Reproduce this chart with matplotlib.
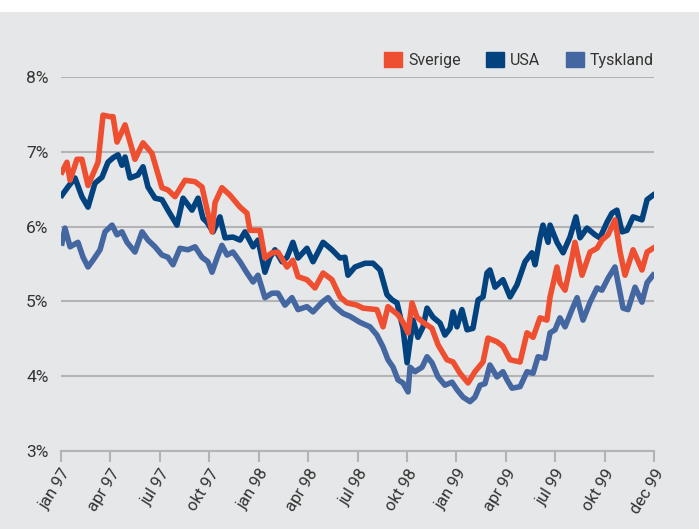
import matplotlib
matplotlib.use("Agg")
import matplotlib.pyplot as plt
from matplotlib.patches import Patch, Rectangle

# Interest rates, 10-year government bonds, jan 97 - dec 99 (months from jan 97)
sverige_m = [0.06, 0.36, 0.55, 0.97, 1.27, 1.64, 2.25, 2.55, 2.97, 3.16, 3.40, 3.89, 4.49, 4.98,
             5.52, 6.13, 6.49, 6.92, 7.53, 8.14, 8.56, 9.17, 9.35, 9.77, 10.26, 10.87, 11.29,
             11.47, 12.08, 12.38, 12.81, 13.17, 13.72, 14.08, 14.39, 14.93, 15.42, 15.91,
             16.45, 16.94, 17.36, 17.97, 18.33, 19.18, 19.55, 19.85, 20.46, 20.76, 21.07,
             21.31, 21.61, 21.98, 22.52, 22.89, 23.43, 23.80, 24.22, 24.71, 25.13, 25.62,
             25.92, 26.47, 26.83, 27.26, 27.87, 28.29, 28.66, 29.08, 29.50, 29.69, 30.11,
             30.29, 30.60, 31.02, 31.20, 31.63, 32.12, 32.54, 32.84, 33.21, 33.63, 33.94,
             34.24, 34.73, 35.27, 35.58, 35.94]
sverige = [6.73, 6.86, 6.62, 6.90, 6.90, 6.55, 6.86, 7.49, 7.47, 7.47, 7.13, 7.36, 6.90, 7.12,
           6.98, 6.52, 6.49, 6.40, 6.62, 6.60, 6.53, 5.93, 6.32, 6.52, 6.42, 6.26, 6.18,
           5.95, 5.95, 5.58, 5.65, 5.66, 5.46, 5.55, 5.33, 5.29, 5.18, 5.38,
           5.29, 5.06, 4.98, 4.95, 4.91, 4.89, 4.66, 4.93, 4.82, 4.72, 4.58,
           4.98, 4.79, 4.72, 4.64, 4.42, 4.22, 4.19, 4.04, 3.91, 4.06, 4.19,
           4.51, 4.46, 4.40, 4.22, 4.19, 4.58, 4.52, 4.78, 4.75, 5.06, 5.46,
           5.25, 5.15, 5.58, 5.79, 5.35, 5.66, 5.71, 5.82, 5.89, 6.09, 5.66,
           5.35, 5.69, 5.42, 5.66, 5.71]

usa_m = [0.06, 0.42, 0.85, 1.27, 1.64, 2.06, 2.49, 2.85, 3.16, 3.46, 3.70, 3.89, 4.19, 4.67,
         4.98, 5.28, 5.71, 6.13, 6.49, 7.04, 7.41, 7.95, 8.32, 8.62, 8.86, 9.23, 9.65, 9.96,
         10.44, 10.87, 11.17, 11.66, 11.96, 12.38, 12.69, 12.99, 13.42, 13.72, 14.08, 14.39,
         14.93, 15.30, 15.91, 16.45, 16.94, 17.24, 17.42, 17.85, 18.46, 18.94, 19.37, 19.79,
         20.10, 20.40, 20.76, 21.01, 21.37, 21.67, 21.98, 22.22, 22.58, 23.01, 23.31, 23.62,
         23.80, 24.04, 24.34, 24.65, 25.01, 25.32, 25.62, 25.86, 26.04, 26.35, 26.83, 27.26,
         27.68, 28.17, 28.59, 28.78, 29.08, 29.26, 29.57, 29.69, 30.11, 30.48, 30.90, 31.26,
         31.51, 31.93, 32.42, 32.72, 33.15, 33.45, 33.75, 34.06, 34.36, 34.73, 35.27, 35.58,
         35.94]
usa = [6.42, 6.53, 6.65, 6.40, 6.26, 6.58, 6.66, 6.86, 6.92, 6.96, 6.82, 6.93, 6.65, 6.69,
       6.80, 6.53, 6.38, 6.36, 6.22, 6.02, 6.38, 6.22, 6.38, 6.11, 6.06, 5.93, 6.13, 5.85,
       5.86, 5.82, 5.93, 5.73, 5.82, 5.39, 5.59, 5.69, 5.53, 5.59, 5.79, 5.58,
       5.71, 5.53, 5.79, 5.69, 5.58, 5.59, 5.35, 5.46, 5.51, 5.51, 5.42, 5.09,
       5.02, 4.98, 4.64, 4.18, 4.75, 4.52, 4.66, 4.91, 4.79, 4.71, 4.55, 4.64,
       4.86, 4.66, 4.89, 4.62, 4.64, 5.02, 5.06, 5.38, 5.42, 5.19, 5.29, 5.06,
       5.22, 5.53, 5.65, 5.49, 5.85, 6.02, 5.79, 6.02, 5.79, 5.65, 5.86, 6.13,
       5.85, 5.98, 5.89, 5.85, 6.06, 6.18, 6.22, 5.93, 5.95, 6.13, 6.09, 6.36,
       6.42]

tyskland_m = [0.06, 0.24, 0.55, 1.03, 1.34, 1.64, 1.94, 2.37, 2.67, 3.10, 3.40, 3.70, 4.01,
              4.49, 4.92, 5.28, 5.71, 6.13, 6.49, 6.80, 7.22, 7.71, 8.14, 8.56, 8.92, 9.17,
              9.47, 9.77, 10.08, 10.44, 10.87, 11.29, 11.66, 11.96, 12.38, 12.81, 13.17,
              13.60, 14.02, 14.39, 14.93, 15.30, 15.85, 16.21, 16.63, 17.12, 17.55, 18.15,
              18.76, 19.18, 19.55, 19.85, 20.16, 20.46, 20.76, 21.07, 21.19, 21.49, 21.92,
              22.22, 22.52, 22.89, 23.31, 23.74, 24.04, 24.41, 24.83, 25.13, 25.44, 25.74,
              26.04, 26.47, 26.83, 27.08, 27.38, 27.87, 28.29, 28.66, 28.96, 29.38, 29.69,
              29.99, 30.29, 30.60, 31.02, 31.33, 31.69, 32.12, 32.54, 32.84, 33.21, 33.63,
              34.12, 34.42, 34.85, 35.27, 35.58, 35.94]
tyskland = [5.78, 5.98, 5.73, 5.79, 5.59, 5.46, 5.55, 5.69, 5.93, 6.02, 5.89, 5.93, 5.79,
            5.66, 5.93, 5.82, 5.73, 5.62, 5.59, 5.49, 5.71, 5.69, 5.73, 5.59, 5.53, 5.39,
            5.58, 5.75, 5.62, 5.66, 5.53, 5.38, 5.26, 5.35, 5.05, 5.11, 5.11,
            4.95, 5.05, 4.89, 4.93, 4.86, 4.99, 5.05, 4.93, 4.84, 4.80, 4.72,
            4.66, 4.55, 4.39, 4.22, 4.12, 3.95, 3.91, 3.79, 4.12, 4.06, 4.12,
            4.26, 4.18, 3.99, 3.88, 3.92, 3.82, 3.72, 3.66, 3.72, 3.88, 3.90,
            4.15, 3.99, 4.06, 3.95, 3.84, 3.86, 4.06, 4.04, 4.26, 4.24, 4.58,
            4.62, 4.78, 4.66, 4.89, 5.05, 4.75, 4.99, 5.18, 5.15, 5.31, 5.46,
            4.91, 4.89, 5.19, 4.99, 5.25, 5.35]

tick_months = [0, 3, 6, 9, 12, 15, 18, 21, 24, 27, 30, 33, 36]
tick_labels = ["jan 97", "apr 97", "jul 97", "okt 97", "jan 98", "apr 98", "jul 98",
               "okt 98", "jan 99", "apr 99", "jul 99", "okt 99", "dec 99"]
y_ticks = [3, 4, 5, 6, 7, 8]

bg = "#e6e7e8"
grid_col = "#b4b4b6"
txt = "#333333"
c_se = "#ef4f31"
c_us = "#02427f"
c_de = "#4467a1"

plt.rcParams["font.family"] = ["Roboto", "DejaVu Sans"]

fig = plt.figure(figsize=(6.99, 5.29), dpi=100, facecolor="white")
fig.patches.append(Rectangle((0, 0), 1, 517 / 529, transform=fig.transFigure,
                             facecolor=bg, edgecolor="none", zorder=-10))
ax = fig.add_axes([61 / 699, 78 / 529, 593 / 699, 374 / 529])
ax.set_facecolor(bg)

lw = 4.0
ax.plot(tyskland_m, tyskland, color=c_de, lw=lw, solid_joinstyle="round", zorder=3)
ax.plot(usa_m, usa, color=c_us, lw=lw, solid_joinstyle="round", zorder=4)
ax.plot(sverige_m, sverige, color=c_se, lw=lw, solid_joinstyle="round", zorder=5)

ax.set_xlim(0, 36)
ax.set_ylim(3, 8)
ax.set_yticks(y_ticks)
ax.set_yticklabels([f"{v}%" for v in y_ticks])
ax.set_xticks(tick_months)
ax.set_xticklabels(tick_labels, rotation=58, ha="right", va="top", rotation_mode="anchor")

for s in ["top", "left", "right"]:
    ax.spines[s].set_visible(False)
ax.spines["bottom"].set_color(grid_col)
ax.spines["bottom"].set_linewidth(1.5)
ax.grid(axis="y", color=grid_col, lw=1.5, zorder=1)
ax.set_axisbelow(True)
ax.tick_params(axis="y", length=0, pad=9, labelsize=12.5, labelcolor=txt)
ax.tick_params(axis="x", length=8, width=1.5, color=grid_col, pad=3,
               labelsize=12, labelcolor=txt)

handles = [Patch(color=c_se, label="Sverige"), Patch(color=c_us, label="USA"),
           Patch(color=c_de, label="Tyskland")]
ax.legend(handles=handles, loc="center right", bbox_to_anchor=(1.0, 1.045), ncol=3,
          frameon=False, fontsize=11.5, handlelength=1.1, handleheight=1.1,
          handletextpad=0.4, columnspacing=1.6, borderpad=0, borderaxespad=0,
          labelcolor=txt)

fig.savefig("out.png", dpi=100, facecolor="white")
